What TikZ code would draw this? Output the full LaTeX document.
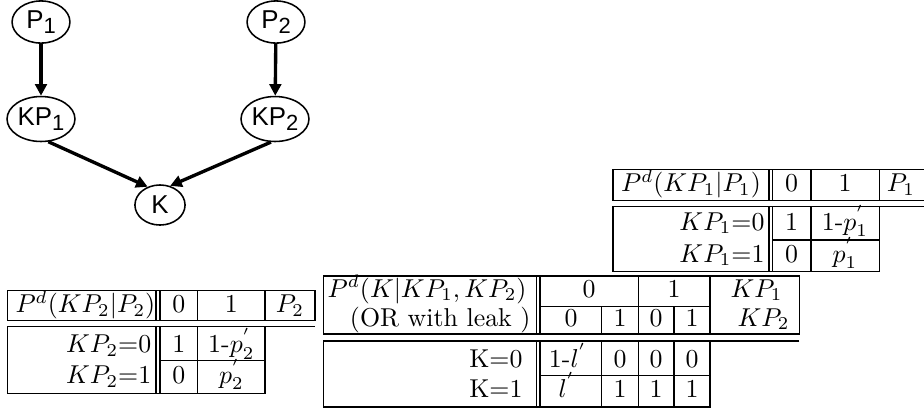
\documentclass[tikz,border=0pt]{standalone}
\usepackage{fontspec}
\newfontfamily\graphfont{Liberation Sans}
\usetikzlibrary{shapes.geometric,arrows.meta}
\newcommand{\gsub}[1]{\raisebox{-2.2pt}{\fontsize{8.5}{8.5}\selectfont #1}}
\newcommand{\pr}{^{\smash{'}}}
\begin{document}
\begin{tikzpicture}[x=0.387pt,y=-0.387pt,
  bn/.style={ellipse,draw,line width=0.6pt,inner sep=0pt,font=\graphfont\fontsize{10}{10}\selectfont},
  pnode/.style={bn,minimum width=22.4pt,minimum height=16.3pt},
  kpnode/.style={bn,minimum width=26.3pt,minimum height=17.4pt},
  knode/.style={bn,minimum width=19.4pt,minimum height=15.5pt},
  edge/.style={line width=1.3pt,-{Triangle[length=4.5pt,width=4.5pt]}},
  rule/.style={line width=0.4pt},
  tx/.style={inner sep=0pt,anchor=base},
  txr/.style={inner sep=0pt,anchor=base east},
  txl/.style={inner sep=0pt,anchor=base west},
]
\useasboundingbox (0,0) rectangle (924,412);

% ---------------- graph ----------------
\node[pnode] (p1) at (41,22) {P\gsub{1}};
\node[pnode] (p2) at (276,22) {P\gsub{2}};
\node[kpnode] (kp1) at (41,119) {KP\gsub{1}};
\node[kpnode] (kp2) at (275,119) {KP\gsub{2}};
\node[knode] (k) at (160,205) {K};
\draw[edge] (p1) -- (kp1);
\draw[edge] (p2) -- (kp2);
\draw[edge] (kp1.-72) -- (k.124);
\draw[edge] (kp2.-100) -- (k.62);

% ---------------- table 1 (top right) ----------------
\draw[rule] (924,169.5) -- (613,169.5) -- (613,200.5) -- (924,200.5);
\foreach \x in {769,772.5,811,879.3} \draw[rule] (\x,169.5) -- (\x,200.5);
\draw[rule] (924,206.5) -- (613,206.5) -- (613,271.7) -- (879.3,271.7) -- (879.3,206.5);
\foreach \x in {769,772.5,811} \draw[rule] (\x,206.5) -- (\x,271.7);
\draw[rule] (772.5,240) -- (879.3,240);
\node[tx] (t1h) at (691,191.5) {$P^d(KP_1|P_1)$};
\node[tx] (t1a) at (791.7,191.5) {0};
\node[tx] (t1b) at (845,191.5) {1};
\node[tx] (t1c) at (901,191.5) {$P_1$};
\node[txr] (t1r1) at (765,230) {$KP_1$=0};
\node[tx] (t1r1a) at (791.7,230) {1};
\node[tx] (t1r1b) at (845,230) {1-$p\pr_1$};
\node[txr] (t1r2) at (765,262) {$KP_1$=1};
\node[tx] (t1r2a) at (791.7,262) {0};
\node[tx] (t1r2b) at (845,262) {$p\pr_1$};

% ---------------- table 2 (bottom left) ----------------
\draw[rule] (7.3,290.7) rectangle (315,320.7);
\foreach \x in {156,160,197.7,265} \draw[rule] (\x,290.7) -- (\x,320.7);
\draw[rule] (315,326.7) -- (7.3,326.7) -- (7.3,393.3) -- (265,393.3) -- (265,326.7);
\foreach \x in {156,160,197.7} \draw[rule] (\x,326.7) -- (\x,393.3);
\draw[rule] (160,360.7) -- (265,360.7);
\node[tx] (t2h) at (85.4,312.7) {$P^d(KP_2|P_2)$};
\node[tx] (t2a) at (178.8,312.7) {0};
\node[tx] (t2b) at (231.3,312.7) {1};
\node[tx] (t2c) at (290,312.7) {$P_2$};
\node[txr] (t2r1) at (151.7,352.7) {$KP_2$=0};
\node[tx] (t2r1a) at (178.8,352.7) {1};
\node[tx] (t2r1b) at (231.3,352.7) {1-$p\pr_2$};
\node[txr] (t2r2) at (151.7,383.3) {$KP_2$=1};
\node[tx] (t2r2a) at (178.8,383.3) {0};
\node[tx] (t2r2b) at (231.3,383.3) {$p\pr_2$};

% ---------------- table 3 (middle) ----------------
\draw[rule] (323.3,276) rectangle (799.3,334);
\foreach \x in {536.5,540,638.3,710} \draw[rule] (\x,276) -- (\x,334);
\foreach \x in {601.7,674} \draw[rule] (\x,306.7) -- (\x,334);
\draw[rule] (540,306.7) -- (710,306.7);
\draw[rule] (799.3,341) -- (323.3,341) -- (323.3,407) -- (710,407) -- (710,341);
\foreach \x in {536.5,540,601.7,638.3,674} \draw[rule] (\x,341) -- (\x,407);
\draw[rule] (540,375.5) -- (710,375.5);
\node[txr] (t3h) at (527,297) {$P^d(K|KP_1,KP_2)$};
\node[tx] (t3a) at (589,297) {0};
\node[tx] (t3b) at (674,297) {1};
\node[txl] (t3c) at (730,297) {$KP_1$};
\node[txr] (t3s) at (531,326) {(OR with leak )};
\node[tx] (t3s1) at (571,326) {0};
\node[tx] (t3s2) at (620,326) {1};
\node[tx] (t3s3) at (656,326) {0};
\node[tx] (t3s4) at (692,326) {1};
\node[txl] (t3d) at (737,326) {$KP_2$};
\node[txr] (t3r1) at (523,367.7) {K=0};
\node[tx] (t3r1a) at (568,367.7) {1-$l\pr$};
\node[tx] (t3r1b) at (620,367.7) {0};
\node[tx] (t3r1c) at (656,367.7) {0};
\node[tx] (t3r1d) at (692,367.7) {0};
\node[txr] (t3r2) at (523,397) {K=1};
\node[tx] (t3r2a) at (567,397) {$l\pr$};
\node[tx] (t3r2b) at (620,397) {1};
\node[tx] (t3r2c) at (656,397) {1};
\node[tx] (t3r2d) at (692,397) {1};
\end{tikzpicture}
\end{document}
